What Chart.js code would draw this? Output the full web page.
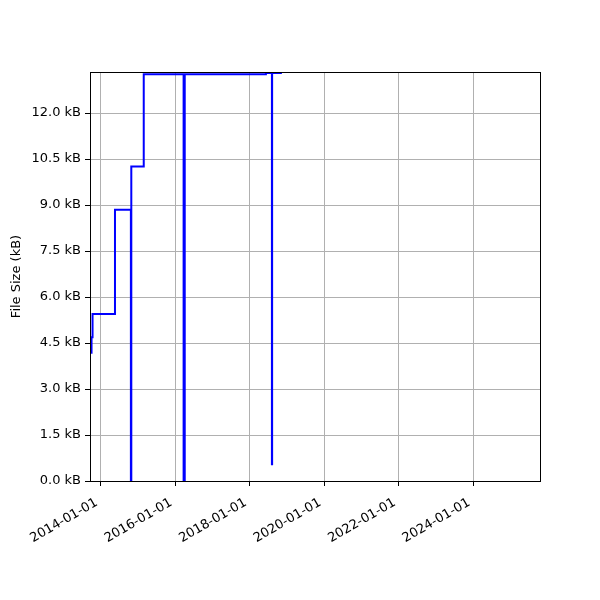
<!DOCTYPE html>
<html>
<head>
<meta charset="utf-8">
<script src="https://cdn.jsdelivr.net/npm/chart.js@4.4.1/dist/chart.umd.min.js"></script>
<style>
  html,body{ margin:0; padding:0; background:#fff; }
  #wrap{ width:600px; height:600px; }
</style>
</head>
<body>
<div id="wrap"><canvas id="c" width="600" height="600"></canvas></div>
<script>
// datos (cambios de tamaño del archivo)
const dates = [
  '2013-09-28','2013-10-03','2013-10-13','2014-05-21','2014-10-24','2014-10-28',
  '2015-02-27','2016-03-24','2016-04-04','2018-06-09','2018-08-07','2018-08-09','2018-11-03'
];
const sizesKB = [4.18, 4.69, 5.45, 8.85, 0.00, 10.26, 13.27, 0.00, 13.27, 13.31, 0.55, 13.31, 13.32];

const xTickDates = ['2014-01-01','2016-01-01','2018-01-01','2020-01-01','2022-01-01','2024-01-01'];
const xMinDate = '2013-09-18';
const xMaxDate = '2025-10-18';
const yMax = 13.34;
const yStep = 1.5;

const ts = (s) => Date.parse(s + 'T00:00:00Z');
const pad2 = (n) => String(n).padStart(2,'0');
const fmtDate = (v) => { const d = new Date(v); return d.getUTCFullYear() + '-' + pad2(d.getUTCMonth()+1) + '-' + pad2(d.getUTCDate()); };

const FONT = { family:'DejaVu Sans', size:13 };

// marco negro alrededor del área (spines de matplotlib)
const frame = {
  id:'frame',
  afterDraw(chart){
    const { ctx, chartArea:a } = chart;
    ctx.save();
    ctx.strokeStyle = '#000'; ctx.lineWidth = 1;
    ctx.strokeRect(a.left + 0.5, a.top + 0.5, a.right - a.left, a.bottom - a.top);
    ctx.restore();
  }
};

new Chart(document.getElementById('c'), {
  type:'line',
  data:{ datasets:[{
    data: dates.map((d,i) => ({ x: ts(d), y: sizesKB[i] })),
    borderColor:'#0000ff', borderWidth:2, pointRadius:0, stepped:'before', tension:0, fill:false
  }]},
  options:{
    responsive:false, animation:false,
    layout:{ padding:{ left:0, right:60, top:72, bottom:0 } },
    plugins:{ legend:{ display:false }, tooltip:{ enabled:false } },
    scales:{
      x:{
        type:'linear', min: ts(xMinDate), max: ts(xMaxDate),
        afterBuildTicks:(s) => { s.ticks = xTickDates.map(d => ({ value: ts(d) })); },
        afterFit:(s) => { s.height = 119; },
        grid:{ color:'#b0b0b0', lineWidth:1, tickColor:'#000', tickLength:5 },
        border:{ display:false },
        ticks:{ color:'#000', font:FONT, padding:9, labelOffset:-4, minRotation:30, maxRotation:30, autoSkip:false,
                callback:(v) => fmtDate(v) }
      },
      y:{
        min:0, max:yMax,
        afterFit:(s) => { s.width = 90; },
        grid:{ color:'#b0b0b0', lineWidth:1, tickColor:'#000', tickLength:5 },
        border:{ display:false },
        title:{ display:true, text:'File Size (kB)', color:'#000', font:FONT, padding:{ top:9, bottom:0 } },
        ticks:{ color:'#000', font:FONT, padding:4, stepSize:yStep, includeBounds:false,
                callback:(v) => v.toFixed(1) + ' kB' }
      }
    }
  },
  plugins:[frame]
});
</script>
</body>
</html>
